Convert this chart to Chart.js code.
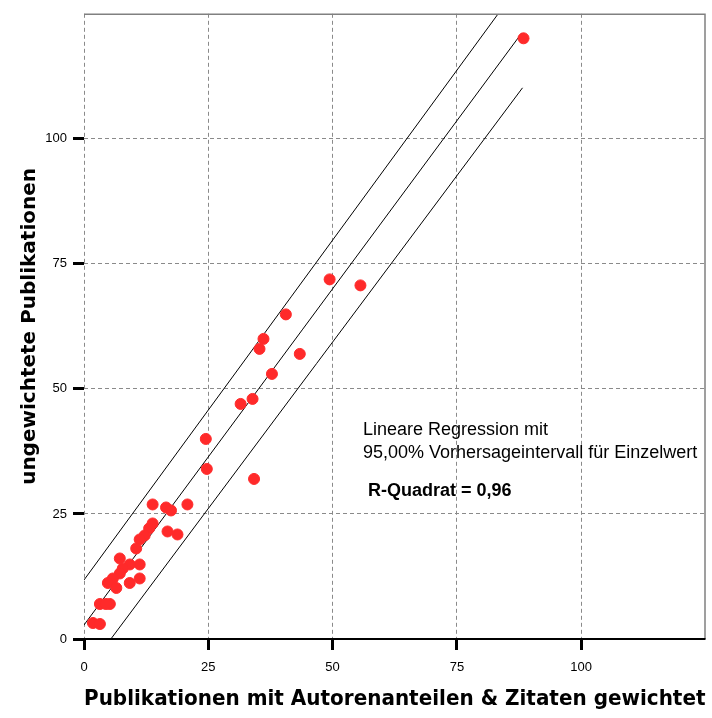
<!DOCTYPE html>
<html>
<head>
<meta charset="utf-8">
<script src="https://cdn.jsdelivr.net/npm/chart.js"></script>
<style>
  html, body { margin: 0; padding: 0; background: #fff; }
  #wrap { width: 712px; height: 718px; }
</style>
</head>
<body>
<div id="wrap"><canvas id="chart" width="712" height="718"></canvas></div>
<script>
// weighted publications (x) vs. unweighted publications (y)
const weighted = [88.4, 49.4, 55.6, 40.6, 36.1, 35.3, 43.4, 37.8, 31.5, 33.9,
  24.5, 24.7, 34.2, 13.8, 16.5, 17.5, 20.8, 13.8, 13.1, 16.8,
  18.8, 12.2, 11.2, 10.5, 7.2, 11.2, 9.2, 7.8, 7.2, 5.8,
  11.2, 9.2, 4.8, 6.5, 3.2, 5.2, 4.4, 1.8, 3.2];
const unweighted = [120.1, 71.9, 70.7, 64.9, 60.0, 58.0, 57.0, 53.0, 47.0, 48.0,
  40.0, 34.0, 32.0, 26.9, 26.3, 25.7, 26.9, 23.1, 22.1, 21.5,
  20.9, 20.7, 19.9, 18.1, 16.1, 14.9, 14.9, 14.1, 13.1, 12.1,
  12.1, 11.2, 11.2, 10.2, 7.0, 7.0, 7.0, 3.2, 3.0];

// regression line and 95% prediction interval, endpoints as drawn
const fitX = [0, 88];
const fitY = [2.8, 121.1];
const upperX = [0, 83.3];
const upperY = [11.8, 125];
const lowerX = [5.4, 88.2];
const lowerY = [0, 110.2];

const tickValues = [0, 25, 50, 75, 100];
const noteLines = ['Lineare Regression mit', '95,00% Vorhersageintervall für Einzelwert'];
const noteR2 = 'R-Quadrat = 0,96';

const toXY = (xs, ys) => xs.map((x, i) => ({ x: x, y: ys[i] }));

function lineSet(xs, ys) {
  return {
    type: 'line',
    data: toXY(xs, ys),
    borderColor: '#000',
    borderWidth: 1,
    pointRadius: 0,
    fill: false,
    order: 2
  };
}

const framePlugin = {
  id: 'frame',
  afterDraw(chart) {
    const { ctx, chartArea: a } = chart;
    ctx.save();
    // gray top and right border
    ctx.strokeStyle = '#808080';
    ctx.lineWidth = 1.5;
    ctx.beginPath();
    ctx.moveTo(a.left, a.top + 0.5);
    ctx.lineTo(a.right - 0.5, a.top + 0.5);
    ctx.lineTo(a.right - 0.5, a.bottom);
    ctx.stroke();
    // black bottom axis line
    ctx.strokeStyle = '#000';
    ctx.lineWidth = 2;
    ctx.beginPath();
    ctx.moveTo(a.left, a.bottom);
    ctx.lineTo(a.right, a.bottom);
    ctx.stroke();

    // annotation text
    ctx.fillStyle = '#000';
    ctx.textBaseline = 'middle';
    ctx.textAlign = 'left';
    ctx.font = '18px "Liberation Sans", Arial, sans-serif';
    ctx.fillText(noteLines[0], 363, 430);
    ctx.fillText(noteLines[1], 363, 453);
    ctx.font = 'bold 18px "Liberation Sans", Arial, sans-serif';
    ctx.fillText(noteR2, 368, 491);
    ctx.restore();
  }
};

const gridOpts = {
  color: '#8a8a8a',
  lineWidth: 1,
  tickColor: '#000',
  tickWidth: 3,
  tickLength: 11,
  tickBorderDash: [0, 0]
};

new Chart(document.getElementById('chart'), {
  type: 'scatter',
  data: {
    datasets: [
      {
        data: toXY(weighted, unweighted),
        backgroundColor: '#ff2a2a',
        borderColor: '#ff2a2a',
        pointRadius: 5.5,
        pointHoverRadius: 5.5,
        order: 1
      },
      lineSet(fitX, fitY),
      lineSet(upperX, upperY),
      lineSet(lowerX, lowerY)
    ]
  },
  options: {
    responsive: false,
    animation: false,
    layout: { padding: { top: 10, right: 2, left: 0, bottom: 0 } },
    plugins: { legend: { display: false }, tooltip: { enabled: false } },
    scales: {
      x: {
        type: 'linear',
        min: 0,
        max: 125,
        afterBuildTicks: s => { s.ticks = tickValues.map(v => ({ value: v })); },
        afterFit: s => { s.height = 79; },
        grid: gridOpts,
        border: { display: false, dash: [4, 3] },
        ticks: {
          color: '#000',
          padding: 10,
          font: { family: '"Liberation Sans", Arial, sans-serif', size: 13 },
          maxRotation: 0
        },
        title: {
          display: true,
          text: 'Publikationen mit Autorenanteilen & Zitaten gewichtet',
          color: '#000',
          font: { family: '"DejaVu Sans", sans-serif', size: 22, weight: 'bold' },
          padding: { top: 14, bottom: 6 }
        }
      },
      y: {
        type: 'linear',
        min: 0,
        max: 125,
        afterBuildTicks: s => { s.ticks = tickValues.map(v => ({ value: v })); },
        afterFit: s => { s.width = 84; },
        grid: gridOpts,
        border: { display: false, dash: [4, 3] },
        ticks: {
          color: '#000',
          padding: 6,
          font: { family: '"Liberation Sans", Arial, sans-serif', size: 13 }
        },
        title: {
          display: true,
          text: 'ungewichtete Publikationen',
          color: '#000',
          font: { family: '"DejaVu Sans", sans-serif', size: 20, weight: 'bold' },
          padding: { top: 18, bottom: 0 }
        }
      }
    }
  },
  plugins: [framePlugin]
});
</script>
</body>
</html>
